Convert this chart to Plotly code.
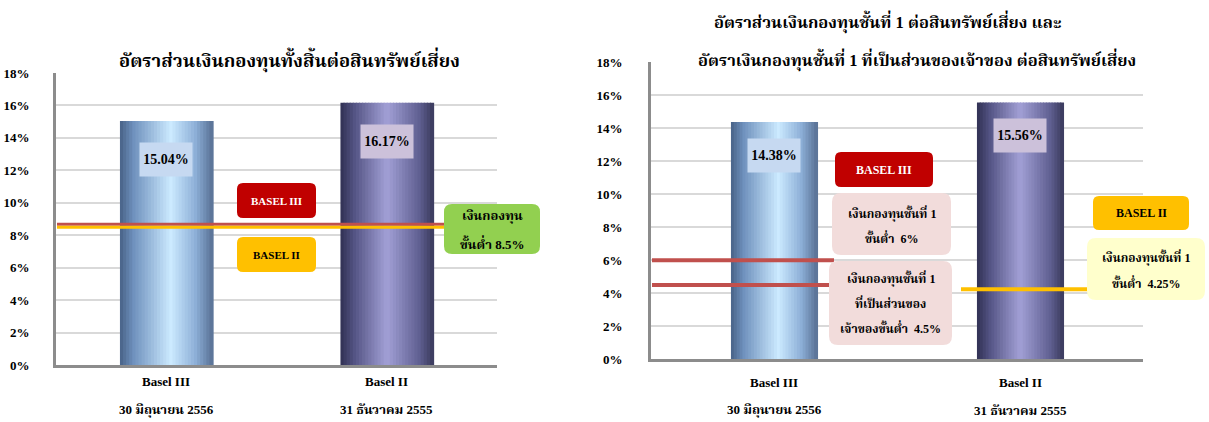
import plotly.graph_objects as go

W, H = 1209, 422

# ---- data -------------------------------------------------------------
categories = ["Basel III", "Basel II"]
dates = ["30 มิถุนายน 2556", "31 ธันวาคม 2555"]
total_capital_ratio = [15.04, 16.17]      # เงินกองทุนทั้งสิ้น
tier1_ratio = [14.38, 15.56]              # เงินกองทุนชั้นที่ 1
total_min = 8.5                           # ขั้นต่ำ (ทั้งสองเกณฑ์)
tier1_min_b3 = 6.0
cet1_min_b3 = 4.5
tier1_min_b2 = 4.25
y_ticks = [0, 2, 4, 6, 8, 10, 12, 14, 16, 18]

FONT = ("Liberation Serif, 'Times New Roman', Norasi, Kinnari, 'TH Sarabun New', "
        "'Noto Serif Thai', 'Noto Sans Thai', serif")


def px(x):
    return x / W


def py(y):
    return 1 - y / H


def lerp_color(stops, t):
    for (t0, c0), (t1, c1) in zip(stops, stops[1:]):
        if t0 <= t <= t1:
            f = (t - t0) / (t1 - t0) if t1 > t0 else 0
            c = [round(a + (b - a) * f) for a, b in zip(c0, c1)]
            return f"rgb({c[0]},{c[1]},{c[2]})"
    c = stops[-1][1]
    return f"rgb({c[0]},{c[1]},{c[2]})"


# horizontal shading for the cylinder-look bars
blue_stops = [(0.0, (72, 98, 135)), (0.15, (112, 146, 190)), (0.55, (204, 234, 255)),
              (0.82, (140, 174, 214)), (1.0, (88, 112, 148))]
navy_stops = [(0.0, (48, 48, 82)), (0.15, (84, 84, 132)), (0.5, (162, 160, 214)),
              (0.85, (96, 96, 146)), (1.0, (58, 58, 92))]
bar_palettes = [blue_stops, navy_stops]

fig = go.Figure()

N = 30


def add_bars(values, width, xa, ya):
    step = width / N
    for i in range(N):
        t = (i + 0.5) / N
        fig.add_trace(go.Bar(
            x=categories, y=values,
            width=[step * 1.35] * len(values),
            offset=[-width / 2 + i * step] * len(values),
            marker=dict(color=[lerp_color(p, t) for p in bar_palettes], line=dict(width=0)),
            xaxis=xa, yaxis=ya, showlegend=False, hoverinfo="skip",
        ))


add_bars(total_capital_ratio, 0.42, "x", "y")
add_bars(tier1_ratio, 0.35, "x2", "y2")

axis_common = dict(showline=True, linecolor="#8c8c8c", linewidth=3, fixedrange=True,
                   automargin=False)
yaxis_common = dict(
    range=[0, 18], tickvals=y_ticks, ticktext=[f"{v}%" for v in y_ticks],
    tickfont=dict(family=FONT, size=13, color="#000", weight="bold"),
    showgrid=True, gridcolor="#d9d9d9", gridwidth=2, zeroline=False,
    ticks="", **axis_common,
)
xaxis_common = dict(type="category", range=[-0.5, 1.5], showticklabels=False,
                    showgrid=False, zeroline=False, ticks="", **axis_common)

fig.update_layout(
    width=W, height=H,
    margin=dict(l=0, r=0, t=0, b=0, autoexpand=False),
    paper_bgcolor="white", plot_bgcolor="white",
    barmode="overlay",
    xaxis=dict(domain=[px(56), px(497)], **xaxis_common),
    yaxis=dict(domain=[py(365), py(73)], anchor="x", ticklabelstandoff=21, **yaxis_common),
    xaxis2=dict(domain=[px(651), px(1143)], anchor="y2", **xaxis_common),
    yaxis2=dict(domain=[py(359.3), py(62.3)], anchor="x2", ticklabelstandoff=23, **yaxis_common),
)

shapes = []
annotations = []


def rounded_box(x0, y0, x1, y1, fill, r=6):
    pts = (f"M {px(x0 + r)},{py(y0)} L {px(x1 - r)},{py(y0)} "
           f"Q {px(x1)},{py(y0)} {px(x1)},{py(y0 + r)} L {px(x1)},{py(y1 - r)} "
           f"Q {px(x1)},{py(y1)} {px(x1 - r)},{py(y1)} L {px(x0 + r)},{py(y1)} "
           f"Q {px(x0)},{py(y1)} {px(x0)},{py(y1 - r)} L {px(x0)},{py(y0 + r)} "
           f"Q {px(x0)},{py(y0)} {px(x0 + r)},{py(y0)} Z")
    shapes.append(dict(type="path", path=pts, xref="paper", yref="paper",
                       fillcolor=fill, line=dict(width=0), layer="above"))


def text(x, y, s, size=12, color="#000"):
    annotations.append(dict(x=px(x), y=py(y), xref="paper", yref="paper", text=s,
                            showarrow=False, xanchor="center", yanchor="middle",
                            font=dict(family=FONT, size=size, color=color, weight="bold")))


def hline(value, x0, x1, ya, color, lo, hi):
    shapes.append(dict(type="rect", xref="paper", yref=ya, x0=px(x0), x1=px(x1),
                       ysizemode="pixel", yanchor=value, y0=lo, y1=hi,
                       fillcolor=color, line=dict(width=0), layer="above"))


RED_LINE = "#c0504d"
YELLOW = "#ffc000"

# ---- left chart: total capital ratio --------------------------------
hline(total_min, 57, 446, "y", RED_LINE, 1.3, 4.3)
hline(total_min, 57, 446, "y", YELLOW, -1.7, 1.3)

rounded_box(237, 183, 316, 218, "#c00000")
text(276.5, 201, "BASEL III", 11, "white")
rounded_box(237, 237, 316, 272, YELLOW)
text(276.5, 255, "BASEL II", 11)
rounded_box(444, 204, 540, 254, "#92d050", r=8)
text(492, 215.5, "เงินกองทุน", 13)
text(492, 243, f"ขั้นต่ำ {total_min:g}%", 13)

text(289.5, 60, "อัตราส่วนเงินกองทุนทั้งสิ้นต่อสินทรัพย์เสี่ยง", 18.4)

# ---- right chart: tier 1 ratios -----------------------------------
hline(tier1_min_b3, 652, 834, "y2", RED_LINE, -2, 2)
hline(cet1_min_b3, 652, 834, "y2", RED_LINE, -2, 2)
hline(tier1_min_b2, 961, 1090, "y2", YELLOW, -2, 2)

rounded_box(835, 152, 933, 187, "#c00000")
text(884, 170, "BASEL III", 12, "white")
rounded_box(832, 193, 951, 255, "#f2dcdb", r=9)
text(891.5, 213, "เงินกองทุนชั้นที่ 1", 12)
text(891.5, 238, f"ขั้นต่ำ  {tier1_min_b3:g}%", 12)
rounded_box(829, 261, 952, 345, "#f2dcdb", r=9)
text(890.5, 278, "เงินกองทุนชั้นที่ 1", 12)
text(890.5, 303, "ที่เป็นส่วนของ", 12)
text(890.5, 328, f"เจ้าของขั้นต่ำ  {cet1_min_b3:g}%", 12)

rounded_box(1093, 196, 1189, 230, YELLOW)
text(1141, 213, "BASEL II", 12)
rounded_box(1087, 238, 1205, 300, "#ffffcc", r=9)
text(1146, 257, "เงินกองทุนชั้นที่ 1", 12)
text(1146, 283, f"ขั้นต่ำ  {tier1_min_b2:g}%", 12)

text(888, 22, "อัตราส่วนเงินกองทุนชั้นที่ 1 ต่อสินทรัพย์เสี่ยง และ", 16.5)
text(917, 60, "อัตราเงินกองทุนชั้นที่ 1 ที่เป็นส่วนของเจ้าของ ต่อสินทรัพย์เสี่ยง", 16.5)

# ---- value labels and category captions ---------------------------
label_bg = ["#c6d9f1", "#ccc1da"]
for xa, ya, vals, drop, cap_y in (("x", "y", total_capital_ratio, 2.4, (381.5, 409.5)),
                                  ("x2", "y2", tier1_ratio, 2.0, (382, 410))):
    for i, (cat, v) in enumerate(zip(categories, vals)):
        annotations.append(dict(
            x=cat, y=v - drop, xref=xa, yref=ya, text=f"{v:.2f}%", showarrow=False,
            bgcolor=label_bg[i], width=48, height=29, borderpad=2,
            font=dict(family=FONT, size=14, color="#000", weight="bold")))
        annotations.append(dict(
            x=cat, y=py(cap_y[0]), xref=xa, yref="paper", text=cat, showarrow=False,
            yanchor="middle", font=dict(family=FONT, size=13, color="#000", weight="bold")))
        annotations.append(dict(
            x=cat, y=py(cap_y[1]), xref=xa, yref="paper", text=dates[i], showarrow=False,
            yanchor="middle", font=dict(family=FONT, size=13, color="#000", weight="bold")))

fig.update_layout(shapes=shapes, annotations=annotations)
fig.write_html("out.html")
